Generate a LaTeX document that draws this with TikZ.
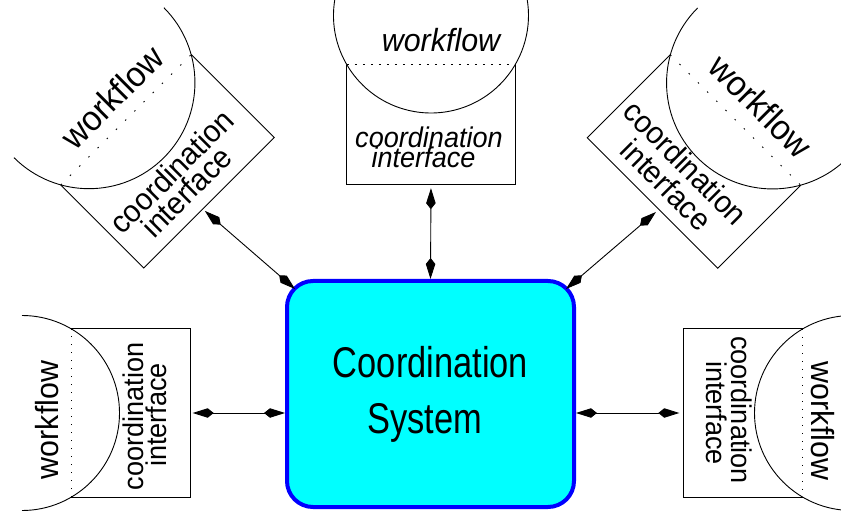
\documentclass[tikz,border=0pt]{standalone}
\usepackage{fontspec}
\setmainfont{Liberation Sans}
\newfontfamily\sysfont[FakeStretch=0.8]{Liberation Sans}
\newfontfamily\unitfont[FakeStretch=0.95]{Liberation Sans}
\usetikzlibrary{arrows.meta}
\definecolor{sysfill}{RGB}{0,255,255}
\definecolor{sysline}{RGB}{0,0,255}

\begin{document}
\begin{tikzpicture}[x=1pt,y=1pt,
		sysbox/.style={draw=sysline,fill=sysfill,line width=4pt,rounded corners=26pt,
			minimum width=287pt,minimum height=226pt,inner sep=0pt,align=center,
			font=\sysfont\fontsize{43}{56}\selectfont},
		cibox/.style={minimum width=168pt,minimum height=119pt,inner sep=0pt},
		bigbox/.style={minimum width=184pt,minimum height=117pt,inner sep=0pt},
		side/.style={line width=0.9pt},
		chord/.style={line width=0.9pt,dash pattern=on 1.5pt off 6.5pt},
		conn/.style={<->,>={Kite[length=21pt,width=9.5pt,inset=6pt]},line width=0.9pt},
		txt/.style={inner sep=0pt,anchor=base},
		wf/.style={txt,font=\unitfont\fontsize{32}{32}\selectfont},
		ci/.style={txt,font=\unitfont\fontsize{28.5}{28.5}\selectfont},
		itwf/.style={txt,font=\unitfont\itshape\fontsize{32}{32}\selectfont},
		itci/.style={txt,font=\unitfont\itshape\fontsize{28.5}{28.5}\selectfont},
		bigwf/.style={txt,font=\unitfont\fontsize{35}{35}\selectfont},
		bigci/.style={txt,font=\unitfont\fontsize{31}{31}\selectfont}]
	\useasboundingbox (0,0) rectangle (841,512);
	\clip (0,0) rectangle (841,512);

	\node[sysbox] (sys) at (430.5,118) {Coordination\\System\hspace*{12pt}};

	% top
	\begin{scope}[shift={(431,387.5)}]
		\node[cibox] (tci) at (0,0) {};
		\coordinate (twf) at (0,109);
		\draw[side] (twf) ++(170:97.5) arc[start angle=170,end angle=370,radius=97.5];
		\draw[side] (tci.north west) -- (tci.south west) -- (tci.south east) -- (tci.north east);
		\draw[chord,dash pattern=on 2.5pt off 5.5pt] (tci.north west) -- (tci.north east);
		\node[itwf] (twt) at (10,72.5) {workflow};
		\node[itci] (tct) at (-2,-23.5) {coordination};
		\node[itci] (tit) at (-7.5,-43.5) {interface};
	\end{scope}

	% left
	\begin{scope}[shift={(131,99)},rotate=90,transform shape]
		\node[cibox] (lci) at (0,0) {};
		\coordinate (lwf) at (0,109);
		\draw[side] (lwf) ++(180:97.5) arc[start angle=180,end angle=360,radius=97.5];
		\draw[side] (lci.north west) -- (lci.south west) -- (lci.south east) -- (lci.north east);
		\draw[chord] (lci.north west) -- (lci.north east);
		\node[wf] (lwt) at (-7,73) {workflow};
		\node[ci] (lct) at (-3.5,-12) {coordination};
		\node[ci] (lit) at (-2,-35) {interface};
	\end{scope}

	% right
	\begin{scope}[shift={(743,99)},rotate=-90,transform shape]
		\node[cibox] (rci) at (0,0) {};
		\coordinate (rwf) at (0,109);
		\draw[side] (rwf) ++(180:97.5) arc[start angle=180,end angle=360,radius=97.5];
		\draw[side] (rci.north west) -- (rci.south west) -- (rci.south east) -- (rci.north east);
		\draw[chord] (rci.north west) -- (rci.north east);
		\node[wf] (rwt) at (8,68.7) {workflow};
		\node[ci] (rct) at (-3,-11.3) {coordination};
		\node[ci] (rit) at (0,-36.3) {interface};
	\end{scope}

	% top left
	\begin{scope}[shift={(167.5,350.75)},rotate=45,transform shape]
		\node[bigbox] (tlci) at (0,0) {};
		\coordinate (tlwf) at (0,111.1);
		\draw[side] (tlwf) ++(180:106) arc[start angle=180,end angle=360,radius=106];
		\draw[side] (tlci.north west) -- (tlci.south west) -- (tlci.south east) -- (tlci.north east);
		\draw[chord,dash pattern=on 1.5pt off 11.5pt] (tlci.north west) -- (tlci.north east);
		\node[bigwf] (tlwt) at (6,72) {workflow};
		\node[bigci] (tlct) at (-4.4,-21) {coordination};
		\node[bigci] (tlit) at (-8,-46) {interface};
		\coordinate (tlend) at (-8.7,-61.5);
	\end{scope}

	% top right
	\begin{scope}[shift={(694,350.5)},rotate=-45,transform shape]
		\node[bigbox] (trci) at (0,0) {};
		\coordinate (trwf) at (0,111.1);
		\draw[side] (trwf) ++(180:106) arc[start angle=180,end angle=360,radius=106];
		\draw[side] (trci.north west) -- (trci.south west) -- (trci.south east) -- (trci.north east);
		\draw[chord,dash pattern=on 1.5pt off 11.5pt] (trci.north west) -- (trci.north east);
		\node[bigwf] (trwt) at (8,74) {workflow};
		\node[bigci] (trct) at (-5,-18) {coordination};
		\node[bigci] (trit) at (-2.7,-47) {interface};
		\coordinate (trend) at (8.8,-62.6);
	\end{scope}

	% links to the coordination system
	\draw[conn,shorten <=4pt] (tci.south) -- (sys.north);
	\draw[conn,shorten <=2pt] (lci.south) -- (lci.south -| sys.west);
	\draw[conn,shorten <=4pt] (rci.south) -- (rci.south -| sys.east);
	\draw[conn] (tlend) -- ([shift={(10,-10)}]sys.north west);
	\draw[conn] (trend) -- ([shift={(-10,-10)}]sys.north east);
\end{tikzpicture}
\end{document}
